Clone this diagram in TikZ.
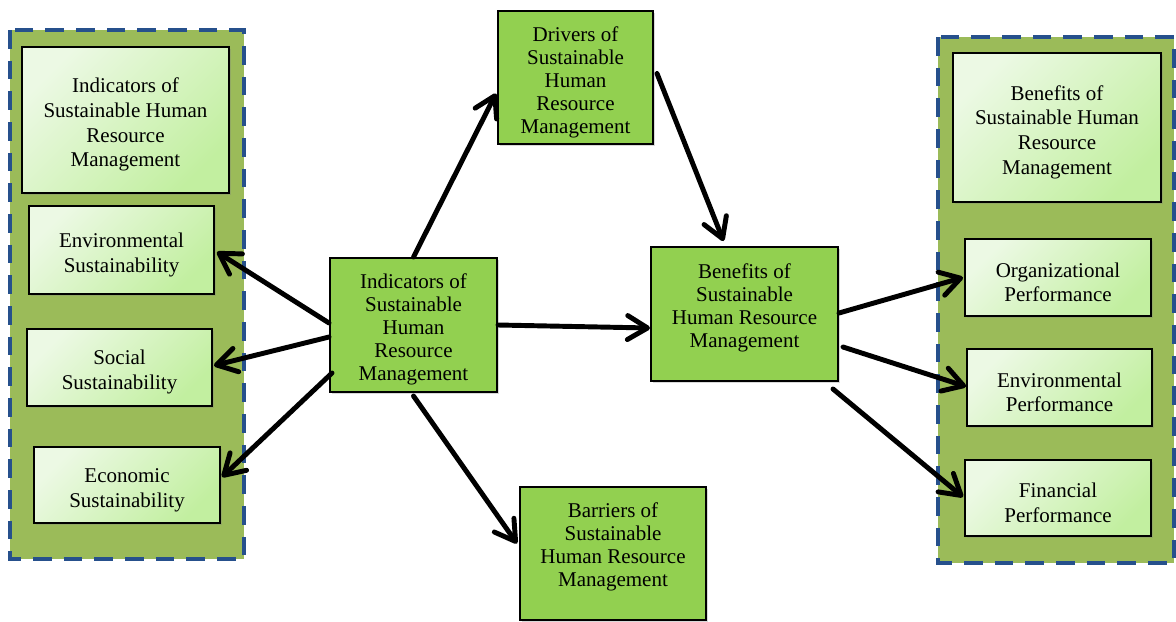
\documentclass[tikz,border=0pt]{standalone}
\usepackage{fontspec}
\setmainfont{Liberation Serif}
\usetikzlibrary{arrows.meta,shadows,calc}
\definecolor{panelgreen}{HTML}{9BBB59}
\definecolor{boxgreen}{HTML}{92D050}
\definecolor{dashblue}{HTML}{26508C}
\definecolor{lightA}{HTML}{ECF9E4}
\definecolor{lightB}{HTML}{C2EFA0}
\newcommand\bxstrut{\rule{0pt}{18pt}}
\begin{document}
\begin{tikzpicture}[x=0.75pt,y=-0.75pt,
  txt/.style={align=center, inner sep=0pt, text=black},
  shad/.style={drop shadow={shadow xshift=1.8pt, shadow yshift=-1.8pt, opacity=0.3}},
  gbox/.style={txt, font=\fontsize{15.75}{17.2}\selectfont, draw=black, line width=1.5pt, fill=boxgreen, shad},
  lbox/.style={txt, font=\fontsize{15.75}{18.5}\selectfont, draw=black, line width=1.5pt, left color=lightA, right color=lightB, shading angle=45, shad},
  sz/.style 2 args={minimum width=#1*0.75pt, minimum height=#2*0.75pt},
  panel/.style={fill=panelgreen, draw=dashblue, line width=3pt, dash pattern=on 14pt off 9pt},
  arr/.style={line width=3.7pt, line cap=round, -{Straight Barb[length=15pt,width=18pt,line cap=round,line join=round]}}
]
\useasboundingbox (0,0) rectangle (1176,621);

% panels
\draw[panel] (10,30) rectangle (244,559);
\draw[panel] (938,37) rectangle (1174,563);

% left panel boxes
\node[lbox, sz={207}{146}] (lh) at (125.5,120) {\bxstrut Indicators of\\Sustainable Human\\Resource\\Management};
\node[lbox, sz={185}{88}] (les) at (121.5,250) {\bxstrut Environmental\\Sustainability};
\node[lbox, sz={185}{77}] (lsoc) at (119.5,367.5) {\bxstrut Social\\Sustainability};
\node[lbox, sz={186}{76}] (leco) at (127,485) {\bxstrut Economic\\Sustainability};

% right panel boxes
\node[lbox, sz={208}{149}] (rh) at (1057,127.5) {\bxstrut Benefits of\\Sustainable Human\\Resource\\Management};
\node[lbox, sz={186}{77}] (rorg) at (1058,277.5) {\bxstrut Organizational\\Performance};
\node[lbox, sz={185}{77}] (renv) at (1059.5,387.5) {\bxstrut Environmental\\Performance};
\node[lbox, sz={186}{76}] (rfin) at (1058,498) {\bxstrut Financial\\Performance};

% centre boxes
\node[gbox, sz={167}{134}] (ind) at (413.5,325) {\bxstrut Indicators of\\Sustainable\\Human\\Resource\\Management};
\node[gbox, sz={155}{133}] (drv) at (575.5,77.5) {\bxstrut Drivers of\\Sustainable\\Human\\Resource\\Management};
\node[gbox, sz={187}{134}] (ben) at (744.5,314) {\bxstrut Benefits of\\Sustainable\\Human Resource\\Management\\[2.8pt]};
\node[gbox, sz={186}{133}] (bar) at (613,553.5) {\bxstrut Barriers of\\Sustainable\\Human Resource\\Management\\[2.8pt]};

% arrows
\draw[arr] (ind.north) -- ($(drv.west)+(-1,16)$);
\draw[arr] ($(drv.east)+(3,-4)$) -- ($(ben.north)+(-21,-5)$);
\draw[arr] (ind.east) -- ($(ben.west)+(0,14)$);
\draw[arr] ($(ind.south)+(0,3)$) -- ($(bar.west)+(-2,-10)$);
\draw[arr] ($(ind.west)+(0,-2)$) -- ($(les.east)+(2,2)$);
\draw[arr] ($(ind.west)+(0,12)$) -- ($(lsoc.east)+(1,-2)$);
\draw[arr] ($(ind.west)+(3,48)$) -- ($(leco.east)+(1,-8)$);
\draw[arr] ($(ben.east)+(0,-1)$) -- ($(rorg.west)+(-1,0)$);
\draw[arr] ($(ben.east)+(4,33)$) -- ($(renv.west)+(0,-1)$);
\draw[arr] ($(ben.south east)+(-6,7)$) -- ($(rfin.west)+(-1,-1)$);
\end{tikzpicture}
\end{document}
